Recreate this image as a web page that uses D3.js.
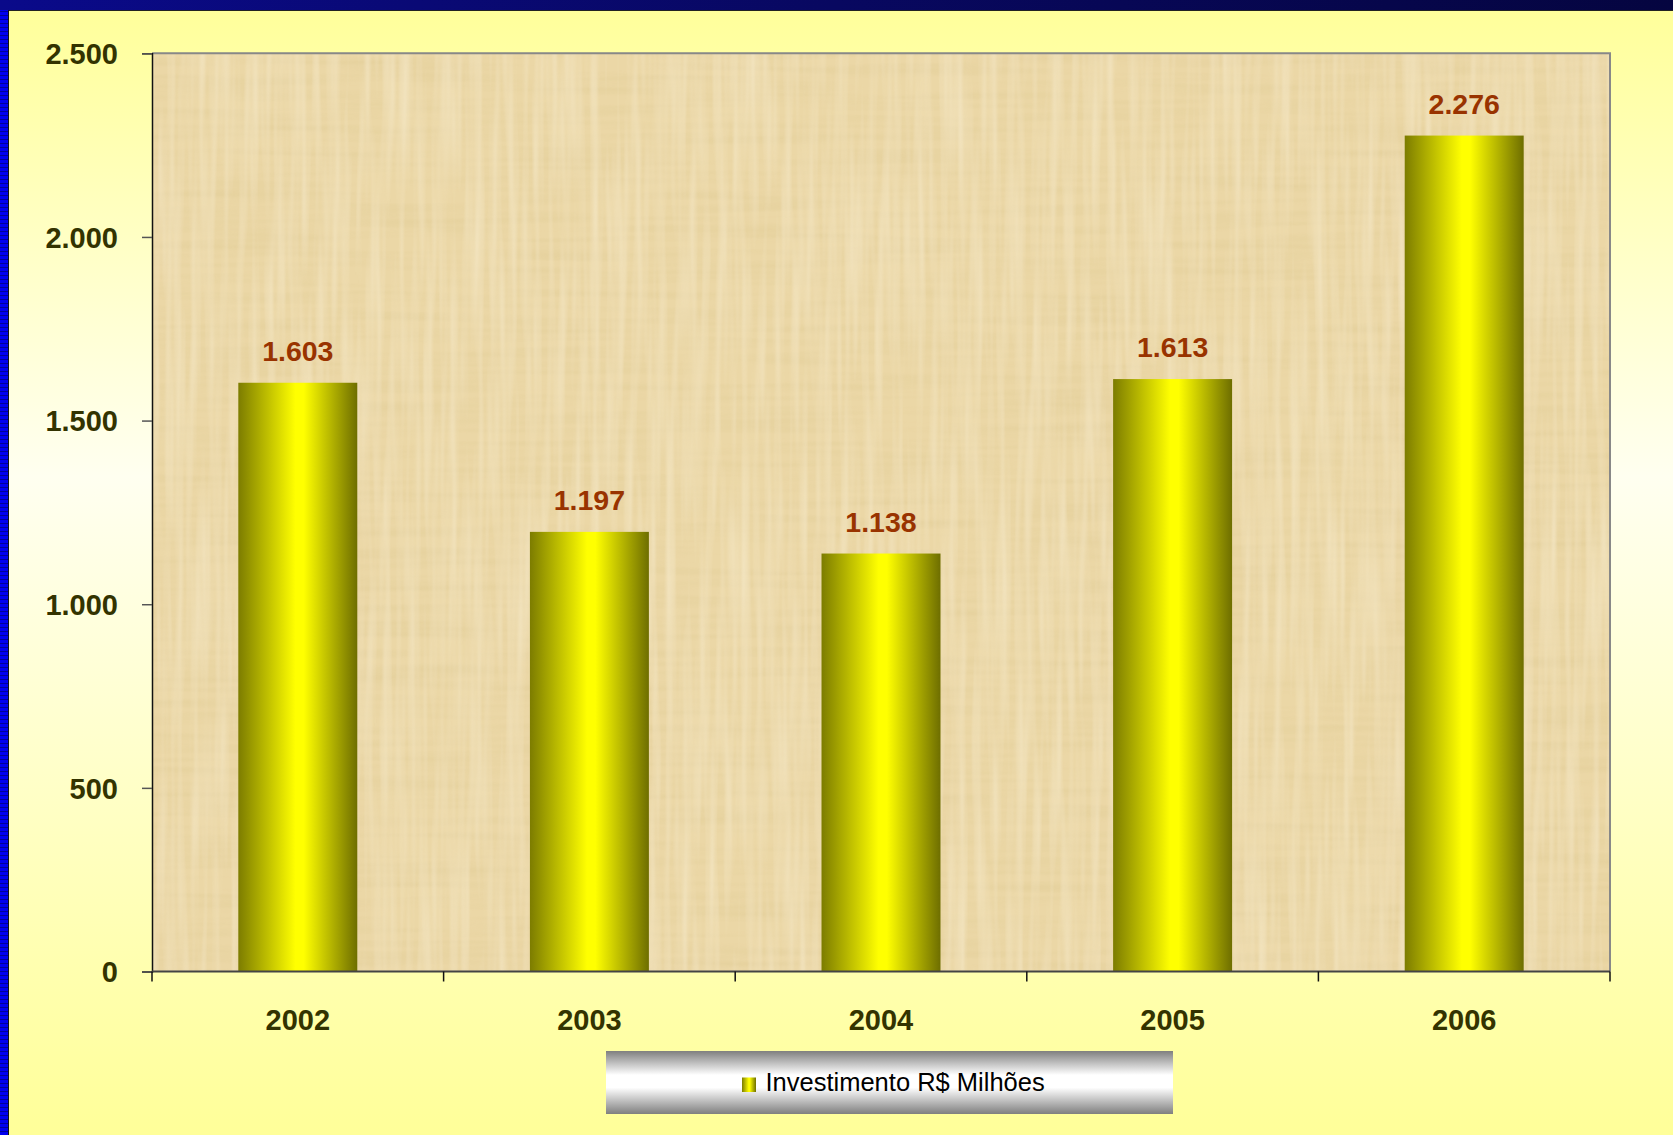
<!DOCTYPE html>
<html>
<head>
<meta charset="utf-8">
<script src="https://cdn.jsdelivr.net/npm/d3@7"></script>
<style>
  body { margin: 0; background: #ffff99; }
  svg { display: block; }
  text { font-family: Arial, "Liberation Sans", sans-serif; }
</style>
</head>
<body>
<div id="container"><svg></svg></div>
<script>
const years = ["2002", "2003", "2004", "2005", "2006"];
const investimento = [1603, 1197, 1138, 1613, 2276];
const yTicks = [0, 500, 1000, 1500, 2000, 2500];
const seriesName = "Investimento R$ Milhões";

drawChart();

function drawChart() {
  const W = 1673, H = 1135;
  const plot = { left: 152, right: 1610, top: 53.3, bottom: 971.5 };
  const br = d3.formatLocale({ decimal: ",", thousands: ".", grouping: [3], currency: ["R$", ""] });
  const fmt = br.format(",d");

  const svg = d3.select("#container svg").attr("width", W).attr("height", H);
  const defs = svg.append("defs");

  // page background: yellow, lighter in the middle
  const bg = defs.append("linearGradient").attr("id", "bg")
    .attr("x1", 0).attr("y1", 0).attr("x2", 0).attr("y2", 1);
  bg.append("stop").attr("offset", "0%").attr("stop-color", "#ffff99");
  bg.append("stop").attr("offset", "42%").attr("stop-color", "#fffff0");
  bg.append("stop").attr("offset", "100%").attr("stop-color", "#ffff99");

  const bar = defs.append("linearGradient").attr("id", "bar")
    .attr("x1", 0).attr("y1", 0).attr("x2", 1).attr("y2", 0);
  bar.append("stop").attr("offset", "0%").attr("stop-color", "#7c7c00");
  bar.append("stop").attr("offset", "48%").attr("stop-color", "#ffff00");
  bar.append("stop").attr("offset", "55%").attr("stop-color", "#ffff00");
  bar.append("stop").attr("offset", "100%").attr("stop-color", "#6e6e00");

  const leg = defs.append("linearGradient").attr("id", "leg")
    .attr("x1", 0).attr("y1", 0).attr("x2", 0).attr("y2", 1);
  leg.append("stop").attr("offset", "0%").attr("stop-color", "#7f7f7f");
  leg.append("stop").attr("offset", "38%").attr("stop-color", "#ffffff");
  leg.append("stop").attr("offset", "58%").attr("stop-color", "#ffffff");
  leg.append("stop").attr("offset", "100%").attr("stop-color", "#7f7f7f");

  const topBand = defs.append("linearGradient").attr("id", "topband")
    .attr("x1", 0).attr("y1", 0).attr("x2", 1).attr("y2", 0);
  topBand.append("stop").attr("offset", "0%").attr("stop-color", "#0a0a8a");
  topBand.append("stop").attr("offset", "50%").attr("stop-color", "#080860");
  topBand.append("stop").attr("offset", "100%").attr("stop-color", "#050540");

  const stripes = defs.append("pattern").attr("id", "stripes")
    .attr("width", 8).attr("height", 4).attr("patternUnits", "userSpaceOnUse");
  stripes.append("rect").attr("width", 8).attr("height", 4).attr("fill", "#0000f0");
  stripes.append("rect").attr("y", 3).attr("width", 8).attr("height", 1).attr("fill", "#000099");

  // papyrus-like texture (woven: horizontal + vertical fibres)
  const tex = defs.append("filter").attr("id", "papyrus")
    .attr("x", 0).attr("y", 0).attr("width", 1).attr("height", 1);
  tex.append("feTurbulence").attr("type", "fractalNoise")
    .attr("baseFrequency", "0.006 0.12").attr("numOctaves", 2).attr("seed", 4).attr("result", "n1");
  tex.append("feColorMatrix").attr("in", "n1").attr("type", "matrix")
    .attr("values", "0 0 0 0 0.72  0 0 0 0 0.58  0 0 0 0 0.28  1.3 0 0 0 -0.5")
    .attr("result", "c1");
  tex.append("feTurbulence").attr("type", "fractalNoise")
    .attr("baseFrequency", "0.12 0.006").attr("numOctaves", 2).attr("seed", 9).attr("result", "n2");
  tex.append("feColorMatrix").attr("in", "n2").attr("type", "matrix")
    .attr("values", "0 0 0 0 0.98  0 0 0 0 0.92  0 0 0 0 0.76  1.3 0 0 0 -0.48")
    .attr("result", "c2");
  tex.append("feMerge").call(m => {
    m.append("feMergeNode").attr("in", "c1");
    m.append("feMergeNode").attr("in", "c2");
  });

  svg.append("rect").attr("width", W).attr("height", H).attr("fill", "url(#bg)");
  svg.append("rect").attr("width", W).attr("height", 10).attr("fill", "url(#topband)");
  svg.append("rect").attr("y", 10).attr("width", 8).attr("height", H - 10).attr("fill", "url(#stripes)");
  svg.append("line").attr("x1", 8).attr("x2", W).attr("y1", 10.5).attr("y2", 10.5).attr("stroke", "#222").attr("stroke-width", 1);
  svg.append("line").attr("x1", 8.5).attr("x2", 8.5).attr("y1", 10).attr("y2", H).attr("stroke", "#111").attr("stroke-width", 1);

  const x = d3.scaleBand().domain(years).range([plot.left, plot.right])
    .paddingInner(0.592).paddingOuter(0.296);
  const xEdge = d3.scaleLinear().domain([0, years.length]).range([plot.left, plot.right]);
  const y = d3.scaleLinear().domain([0, 2500]).range([plot.bottom, plot.top]);

  // plot area
  svg.append("rect").attr("x", plot.left).attr("y", plot.top)
    .attr("width", plot.right - plot.left).attr("height", plot.bottom - plot.top)
    .attr("fill", "#ebd7a6");
  svg.append("rect").attr("x", plot.left).attr("y", plot.top)
    .attr("width", plot.right - plot.left).attr("height", plot.bottom - plot.top)
    .attr("fill", "#fff").attr("filter", "url(#papyrus)").attr("opacity", 0.55);
  svg.append("path")
    .attr("d", `M${plot.left},${plot.top}H${plot.right}V${plot.bottom}`)
    .attr("fill", "none").attr("stroke", "#888").attr("stroke-width", 2);

  // bars
  svg.append("g").selectAll("rect")
    .data(investimento)
    .join("rect")
    .attr("x", (d, i) => x(years[i]))
    .attr("y", d => y(d))
    .attr("width", x.bandwidth())
    .attr("height", d => y(0) - y(d))
    .attr("fill", "url(#bar)");

  svg.append("g").selectAll("text")
    .data(investimento)
    .join("text")
    .attr("x", (d, i) => x(years[i]) + x.bandwidth() / 2)
    .attr("y", d => y(d) - 22)
    .attr("text-anchor", "middle")
    .attr("font-size", 28.5)
    .attr("font-weight", "bold")
    .attr("fill", "#993300")
    .text(d => fmt(d));

  // y axis
  const yAxis = svg.append("g")
    .attr("transform", `translate(${plot.left},0)`)
    .call(d3.axisLeft(y).tickValues(yTicks).tickFormat(fmt).tickSize(10).tickPadding(24));
  yAxis.select(".domain").attr("stroke", "#111").attr("stroke-width", 1.5);
  yAxis.selectAll(".tick line").attr("stroke", "#555").attr("stroke-width", 1.5);
  yAxis.selectAll(".tick text")
    .attr("font-size", 29).attr("font-weight", "bold").attr("fill", "#333300")
    .attr("font-family", "Arial, 'Liberation Sans', sans-serif")
    .attr("dy", "0.35em");

  // x axis
  const xAxis = svg.append("g").attr("transform", `translate(0,${plot.bottom})`);
  xAxis.append("line").attr("x1", plot.left).attr("x2", plot.right)
    .attr("stroke", "#444").attr("stroke-width", 2);
  xAxis.selectAll(".edge")
    .data(d3.range(years.length + 1))
    .join("line")
    .attr("class", "edge")
    .attr("x1", d => xEdge(d)).attr("x2", d => xEdge(d))
    .attr("y1", 0).attr("y2", 10)
    .attr("stroke", "#111").attr("stroke-width", 1.5);
  xAxis.selectAll(".lbl")
    .data(years)
    .join("text")
    .attr("class", "lbl")
    .attr("x", d => x(d) + x.bandwidth() / 2)
    .attr("y", 58.5)
    .attr("text-anchor", "middle")
    .attr("font-size", 29).attr("font-weight", "bold").attr("fill", "#333300")
    .text(d => d);

  // legend
  const lg = svg.append("g").attr("transform", "translate(606,1051)");
  lg.append("rect").attr("width", 567).attr("height", 63).attr("fill", "url(#leg)");
  lg.append("rect").attr("x", 136).attr("y", 26.5).attr("width", 14).attr("height", 14.5).attr("fill", "url(#bar)");
  lg.append("text").attr("x", 159.5).attr("y", 40)
    .attr("font-size", 25.5).attr("fill", "#000")
    .text(seriesName);
}
</script>
</body>
</html>
